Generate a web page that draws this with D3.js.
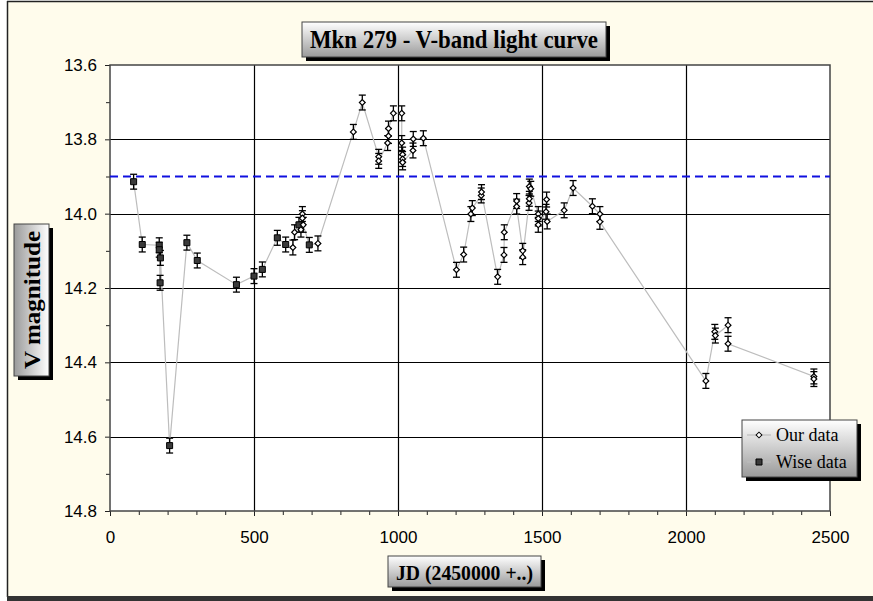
<!DOCTYPE html>
<html><head><meta charset="utf-8">
<script src="https://cdn.jsdelivr.net/npm/d3@7"></script>
<style>body{margin:0;background:#fff}svg{display:block}</style>
</head><body>
<script>
// Our data (open diamonds): JD offset, V magnitude
const ourJD  = [635,641,663,668,668,671,722,845,876,933,933,964,967,967,984,1013,1013,1016,1016,1016,1052,1053,1088,
  1203,1228,1253,1258,1289,1290,1346,1368,1369,1412,1412,1433,1433,1455,1456,1456,1461,1487,1487,1487,1514,1516,1518,
  1577,1608,1675,1701,1701,2069,2100,2102,2146,2146,2444,2444];
const ourMag = [14.091,14.050,14.043,14.001,14.012,14.030,14.080,13.780,13.701,13.847,13.858,13.810,13.791,13.771,13.730,13.730,13.810,13.841,13.853,13.862,13.830,13.799,13.797,
  14.151,14.110,14.001,13.985,13.951,13.942,14.170,14.111,14.050,13.966,13.981,14.100,14.117,13.971,13.960,13.927,13.933,14.001,14.013,14.030,13.995,13.962,14.021,
  13.991,13.931,13.980,14.001,14.022,14.450,14.318,14.328,14.300,14.350,14.438,14.445];
// Wise data (filled squares)
const wiseJD  = [82,112,171,171,175,174,207,267,303,439,500,529,581,610,656,692];
const wiseMag = [13.914,14.083,14.085,14.097,14.119,14.186,14.624,14.078,14.126,14.191,14.168,14.150,14.065,14.083,14.030,14.084];
const magErr = 0.02;
const refMag = 13.9;
const xTicks = [0,500,1000,1500,2000,2500];
const yTicks = [13.6,13.8,14.0,14.2,14.4,14.6,14.8];
const titleText = "Mkn 279 - V-band light curve";
const xLabel = "JD (2450000 +..)";
const yLabel = "V magnitude";
const legendNames = ["Our data","Wise data"];

const W = 873, H = 601;
const svg = d3.select("body").append("svg").attr("width", W).attr("height", H);
const defs = svg.append("defs");
const grad = defs.append("linearGradient").attr("id","boxg").attr("x1",0).attr("y1",0).attr("x2",0).attr("y2",1);
grad.append("stop").attr("offset","0%").attr("stop-color","#ffffff");
grad.append("stop").attr("offset","100%").attr("stop-color","#9a9a9a");
const gradV = defs.append("linearGradient").attr("id","boxgv").attr("x1",0).attr("y1",0).attr("x2",1).attr("y2",0);
gradV.append("stop").attr("offset","0%").attr("stop-color","#9a9a9a");
gradV.append("stop").attr("offset","100%").attr("stop-color","#ffffff");

// chart area background & frame
svg.append("rect").attr("x",7).attr("y",1).attr("width",W).attr("height",596).attr("fill","#fffcec");
svg.append("line").attr("x1",7.5).attr("x2",7.5).attr("y1",1).attr("y2",597).attr("stroke","#222").attr("stroke-width",1.5);
svg.append("line").attr("x1",7).attr("x2",W).attr("y1",1.5).attr("y2",1.5).attr("stroke","#222").attr("stroke-width",1.5);
svg.append("rect").attr("x",7).attr("y",596).attr("width",W).attr("height",5).attr("fill","#333");

const x = d3.scaleLinear().domain([0,2500]).range([110,830]);
const y = d3.scaleLinear().domain([13.6,14.8]).range([65,511]);

// plot area
svg.append("rect").attr("x",110).attr("y",65).attr("width",720).attr("height",446).attr("fill","#fff");

// grid
const gridG = svg.append("g");
gridG.selectAll("line.v").data(xTicks.slice(1,-1)).join("line")
  .attr("x1",d=>Math.round(x(d))+0.5).attr("x2",d=>Math.round(x(d))+0.5).attr("y1",65).attr("y2",511)
  .attr("stroke","#000").attr("stroke-width",1.2);
gridG.selectAll("line.h").data(yTicks.slice(1,-1)).join("line")
  .attr("y1",d=>Math.round(y(d))+0.5).attr("y2",d=>Math.round(y(d))+0.5).attr("x1",110).attr("x2",830)
  .attr("stroke","#000").attr("stroke-width",1.2);

// axes
const fontAxis = "'Liberation Sans', Arial, sans-serif";
const yAxis = svg.append("g").attr("transform","translate(110,0)")
  .call(d3.axisLeft(y).tickValues(yTicks).tickFormat(d3.format(".1f")).tickSize(5).tickPadding(8));
const yMinor = svg.append("g").attr("transform","translate(110,0)")
  .call(d3.axisLeft(y).tickValues(d3.range(13.7,14.8,0.2)).tickFormat("").tickSize(4));
const xAxis = svg.append("g").attr("transform","translate(0,511)")
  .call(d3.axisBottom(x).tickValues(xTicks).tickFormat(d3.format("d")).tickSize(5).tickPadding(15));
const xMinor = svg.append("g").attr("transform","translate(0,511)")
  .call(d3.axisBottom(x).tickValues(d3.range(100,2500,100).filter(v=>v%500)).tickFormat("").tickSize(4));
[yAxis,yMinor,xAxis,xMinor].forEach(g=>{
  g.select(".domain").remove();
  g.selectAll("text").attr("font-family",fontAxis).attr("font-size",17).attr("fill","#000");
  g.selectAll("line").attr("stroke","#222");
});

// plot border
svg.append("rect").attr("x",110).attr("y",65).attr("width",720).attr("height",446)
  .attr("fill","none").attr("stroke","#444").attr("stroke-width",1.5);

// reference dashed line
svg.append("line").attr("x1",110).attr("x2",830).attr("y1",y(refMag)).attr("y2",y(refMag))
  .attr("stroke","#1010e0").attr("stroke-width",2).attr("stroke-dasharray","8,5");

// combined connecting line
const ours = ourJD.map((d,i)=>({jd:d,mag:ourMag[i],s:0}));
const wise = wiseJD.map((d,i)=>({jd:d,mag:wiseMag[i],s:1}));
const all = ours.concat(wise).map((d,i)=>({...d,i}))
  .sort((a,b)=>a.jd-b.jd || a.i-b.i);
svg.append("path").datum(all)
  .attr("d", d3.line().x(d=>x(d.jd)).y(d=>y(d.mag)))
  .attr("fill","none").attr("stroke","#bdbdbd").attr("stroke-width",1.2);

// error bars
function errBars(data){
  const g = svg.append("g").attr("stroke","#000").attr("stroke-width",1.3);
  g.selectAll("line.e").data(data).join("line")
    .attr("x1",d=>x(d.jd)).attr("x2",d=>x(d.jd))
    .attr("y1",d=>y(d.mag-magErr)).attr("y2",d=>y(d.mag+magErr));
  g.selectAll("line.t").data(data).join("line")
    .attr("x1",d=>x(d.jd)-3.5).attr("x2",d=>x(d.jd)+3.5)
    .attr("y1",d=>y(d.mag-magErr)).attr("y2",d=>y(d.mag-magErr));
  g.selectAll("line.b").data(data).join("line")
    .attr("x1",d=>x(d.jd)-3.5).attr("x2",d=>x(d.jd)+3.5)
    .attr("y1",d=>y(d.mag+magErr)).attr("y2",d=>y(d.mag+magErr));
}
errBars(wise); errBars(ours);

const sq = d3.symbol().type(d3.symbolSquare).size(36);
const dia = d3.symbol().type(d3.symbolSquare).size(17);
svg.append("g").selectAll("path").data(wise).join("path")
  .attr("d",sq).attr("transform",d=>`translate(${x(d.jd)},${y(d.mag)})`)
  .attr("fill","#3a3a3a").attr("stroke","#000").attr("stroke-width",1);
svg.append("g").selectAll("path").data(ours).join("path")
  .attr("d",dia).attr("transform",d=>`translate(${x(d.jd)},${y(d.mag)}) rotate(45)`)
  .attr("fill","#fff").attr("stroke","#000").attr("stroke-width",1.2);

// boxed labels with shadow
const serif = "'Liberation Serif', 'Times New Roman', serif";
function shadowBox(x0,y0,w,h,fill){
  svg.append("rect").attr("x",x0+4).attr("y",y0+4).attr("width",w).attr("height",h).attr("fill","#000");
  svg.append("rect").attr("x",x0).attr("y",y0).attr("width",w).attr("height",h)
    .attr("fill",fill).attr("stroke","#444").attr("stroke-width",1);
}
shadowBox(302,22,304,35,"url(#boxg)");
svg.append("text").attr("x",454).attr("y",48).attr("text-anchor","middle")
  .attr("font-family",serif).attr("font-weight","bold").attr("font-size",25)
  .attr("textLength",288).attr("lengthAdjust","spacingAndGlyphs").text(titleText);

shadowBox(388,556,153,31,"url(#boxg)");
svg.append("text").attr("x",464.5).attr("y",580).attr("text-anchor","middle")
  .attr("font-family",serif).attr("font-weight","bold").attr("font-size",22)
  .attr("textLength",137).attr("lengthAdjust","spacingAndGlyphs").text(xLabel);

shadowBox(14,224,35,152,"url(#boxgv)");
svg.append("text").attr("transform","translate(40,300) rotate(-90)").attr("text-anchor","middle")
  .attr("font-family",serif).attr("font-weight","bold").attr("font-size",24)
  .attr("textLength",138).attr("lengthAdjust","spacingAndGlyphs").text(yLabel);

// legend
shadowBox(742,420,115,57,"url(#boxg)");
const lg = svg.append("g");
legendNames.forEach((name,i)=>{
  const cy = 435 + i*27;
  lg.append("line").attr("x1",747).attr("x2",771).attr("y1",cy).attr("y2",cy).attr("stroke","#bdbdbd").attr("stroke-width",1.2);
  lg.append("path").attr("d", i===0 ? dia : sq)
    .attr("transform", i===0 ? `translate(759,${cy}) rotate(45)` : `translate(759,${cy})`)
    .attr("fill", i===0 ? "#fff" : "#3a3a3a").attr("stroke","#000").attr("stroke-width",1);
  lg.append("text").attr("x",776).attr("y",cy+6).attr("font-family",serif).attr("font-size",18).text(name);
});
</script>
</body></html>
